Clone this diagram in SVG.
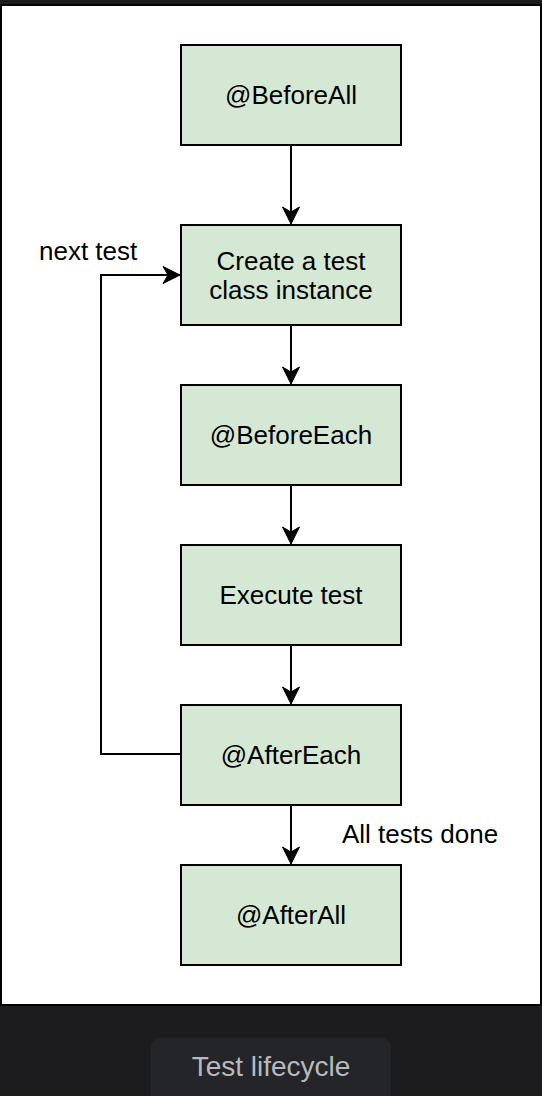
<svg xmlns="http://www.w3.org/2000/svg" width="542" height="1096" viewBox="0 0 542 1096">
  <style>
    .node rect { fill: #d5e8d4; stroke: #000; stroke-width: 2; }
    .lbl { font-family: "Liberation Sans", Arial, Helvetica, sans-serif; font-size: 26px; fill: #000; }
    .c { text-anchor: middle; }
    .edge { fill: none; stroke: #000; stroke-width: 2; }
  </style>
  <defs>
    <marker id="arrow" markerUnits="userSpaceOnUse" markerWidth="20" markerHeight="20" viewBox="-18 -10 20 20" refX="0" refY="0" orient="auto">
      <path d="M0,0 L-17,-8.5 L-12,0 L-17,8.5 Z" fill="#000" stroke="#000" stroke-width="1"/>
    </marker>
  </defs>
  <rect x="0" y="0" width="542" height="1096" fill="#1c1c1e"/>
  <rect x="1" y="5" width="540" height="1000" fill="#fff" stroke="#000" stroke-width="2"/>

  <g id="connectors">
    <path class="edge" d="M291,145 L291,224" marker-end="url(#arrow)"/>
    <path class="edge" d="M291,325 L291,384" marker-end="url(#arrow)"/>
    <path class="edge" d="M291,485 L291,544" marker-end="url(#arrow)"/>
    <path class="edge" d="M291,645 L291,704" marker-end="url(#arrow)"/>
    <path class="edge" d="M291,805 L291,864" marker-end="url(#arrow)"/>
    <path class="edge" d="M181,754 L101,754 L101,275 L180,275" marker-end="url(#arrow)"/>
    <text class="lbl" x="39" y="260">next test</text>
    <text class="lbl" x="342" y="843">All tests done</text>
  </g>

  <g id="beforeAll" class="node">
    <rect x="181" y="45" width="220" height="100"/>
    <text class="lbl c" x="291" y="104">@BeforeAll</text>
  </g>
  <g id="createInstance" class="node">
    <rect x="181" y="225" width="220" height="100"/>
    <text class="lbl c" x="291" y="270">Create a test</text>
    <text class="lbl c" x="291" y="299">class instance</text>
  </g>
  <g id="beforeEach" class="node">
    <rect x="181" y="385" width="220" height="100"/>
    <text class="lbl c" x="291" y="444">@BeforeEach</text>
  </g>
  <g id="executeTest" class="node">
    <rect x="181" y="545" width="220" height="100"/>
    <text class="lbl c" x="291" y="604">Execute test</text>
  </g>
  <g id="afterEach" class="node">
    <rect x="181" y="705" width="220" height="100"/>
    <text class="lbl c" x="291" y="764">@AfterEach</text>
  </g>
  <g id="afterAll" class="node">
    <rect x="181" y="865" width="220" height="100"/>
    <text class="lbl c" x="291" y="924">@AfterAll</text>
  </g>

  <g id="caption">
    <rect x="151" y="1038" width="240" height="70" rx="9" fill="#242528"/>
    <text x="271" y="1076" text-anchor="middle" font-family="'Liberation Sans', Arial, Helvetica, sans-serif" font-size="28px" fill="#b9b9bd">Test lifecycle</text>
  </g>
</svg>
